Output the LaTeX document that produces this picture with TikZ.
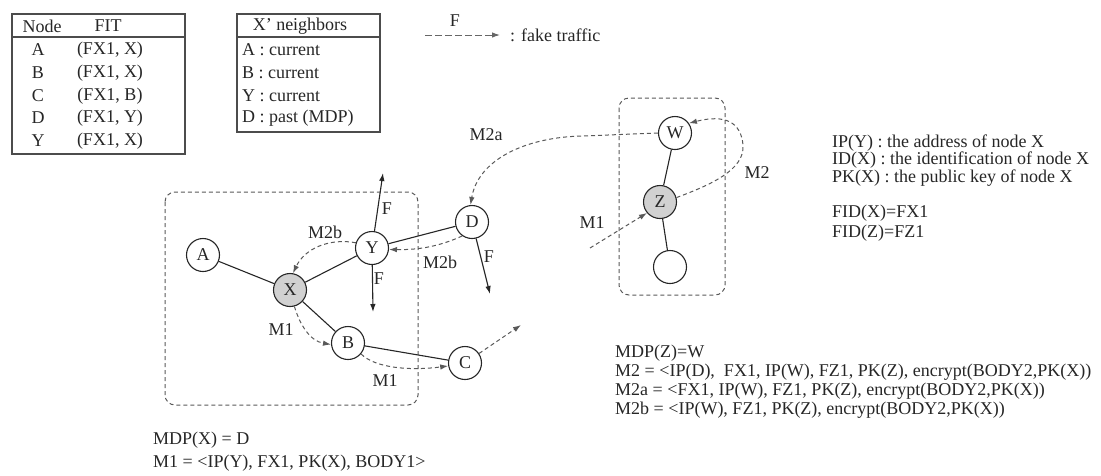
\documentclass[tikz,border=0pt]{standalone}
\usepackage{fontspec}
\setmainfont{Liberation Serif}
\usetikzlibrary{arrows.meta}
\begin{document}
\begin{tikzpicture}[x=1pt,y=-1pt,
  every node/.style={font=\fontsize{18}{20}\selectfont, inner sep=0pt, text=black!85},
  nd/.style={circle, draw=black!85, fill=white, line width=1.1pt, minimum size=33pt, inner sep=0pt},
  gnd/.style={nd, fill=black!18},
  edge/.style={draw=black!85, line width=1.1pt},
  tip/.style={-{Latex[length=8pt,width=5.5pt]}},
  msg/.style={draw=black!65, line width=1pt, dash pattern=on 4pt off 3pt, tip},
  ftraf/.style={draw=black!85, line width=1.1pt, tip},
  box/.style={draw=black!65, line width=1pt, dash pattern=on 4pt off 3pt, rounded corners=10pt},
  tbl/.style={draw=black!70, line width=1.3pt},
  txt/.style={anchor=west}
]
\useasboundingbox (0,0) rectangle (1101,475);

% tables
\draw[tbl] (12,14) rectangle (185,154);
\draw[tbl] (12,37) -- (185,37);
\node (t1h1) at (42,26) {Node};
\node (t1h2) at (108,26) {FIT};
\node (t1a) at (38,50) {A};   \node (t1af) at (110,50) {(FX1, X)};
\node (t1b) at (38,73) {B};   \node (t1bf) at (110,73) {(FX1, X)};
\node (t1c) at (38,96) {C};   \node (t1cf) at (110,96) {(FX1, B)};
\node (t1d) at (38,118) {D};  \node (t1df) at (110,118) {(FX1, Y)};
\node (t1y) at (38,141) {Y};  \node (t1yf) at (110,141) {(FX1, X)};

\draw[tbl] (237,14) rectangle (380,132);
\draw[tbl] (237,37) -- (380,37);
\node (t2h) at (300,26) {X' neighbors};
\node[txt] (t2a) at (242,50) {A : current};
\node[txt] (t2b) at (242,73) {B : current};
\node[txt] (t2y) at (242,96) {Y : current};
\node[txt] (t2d) at (242,118) {D : past (MDP)};

% legend
\coordinate (lg1) at (425,35);
\coordinate (lg2) at (500,35);
\draw[draw=black!60, line width=1pt, dash pattern=on 7pt off 3pt, tip] (lg1) -- (lg2);
\node (lgF) at (455,21) {F};
\node[txt] (lgt) at (510,35) {: fake traffic};

% dashed boxes
\draw[box] (165,192) rectangle (418,405);
\draw[box] (619,98) rectangle (725,295);

% nodes
\node[nd] (A) at (203,255) {A};
\node[gnd] (X) at (290,290) {X};
\node[nd] (Y) at (372,248) {Y};
\node[nd] (D) at (472,222) {D};
\node[nd] (B) at (348,343) {B};
\node[nd] (C) at (465,363) {C};
\node[nd] (W) at (675,133) {W};
\node[gnd] (Z) at (660,202) {Z};
\node[nd] (E) at (670,267) {};

\draw[edge] (A) -- (X);
\draw[edge] (X) -- (Y);
\draw[edge] (Y) -- (D);
\draw[edge] (X) -- (B);
\draw[edge] (B) -- (C);
\draw[edge] (W) -- (Z);
\draw[edge] (Z) -- (E);

% fake traffic
\coordinate (f1) at (383,173);
\coordinate (f2) at (373,312);
\coordinate (f3) at (490,294);
\coordinate (f4) at (521,325);
\draw[ftraf] (Y) -- (f1);
\draw[ftraf] (Y) -- (f2);
\draw[ftraf] (D) -- (f3);
\draw[msg] (C) -- (f4);
\node (lf1) at (387,209) {F};
\node (lf2) at (379,279) {F};
\node (lf3) at (489,257) {F};

% messages
\draw[msg] (Y.162) .. controls (330,238) and (305,248) .. (X.80);
\node (lm2b1) at (325,232) {M2b};
\draw[msg] (D.235) .. controls (440,246) and (420,250) .. (Y.-5);
\node (lm2b2) at (440,262) {M2b};
\draw[msg] (X.-75) .. controls (300,325) and (310,341) .. (B.185);
\node (lm11) at (281,330) {M1};
\draw[msg] (B.-40) .. controls (375,368) and (410,371) .. (C.190);
\node (lm12) at (385,381) {M1};

\coordinate (m2a) at (583,136);
\draw[msg] (W.west) -- (m2a) .. controls (525,137) and (478,160) .. (D.95);
\node (lm2a) at (486,135) {M2a};

\coordinate (m1z) at (590,248);
\draw[msg] (m1z) -- (Z.220);
\node (lm1z) at (592,223) {M1};

\coordinate (m2t) at (743,145);
\draw[msg] (Z.15) .. controls (710,185) and (745,170) .. (m2t) .. controls (741,122) and (725,114) .. (W.35);
\node (lm2) at (757,173) {M2};

% definitions
\node[txt] (d1) at (832,143) {IP(Y) : the address of node X};
\node[txt] (d2) at (832,160) {ID(X) : the identification of node X};
\node[txt] (d3) at (832,178) {PK(X) : the public key of node X};
\node[txt] (d4) at (832,213) {FID(X)=FX1};
\node[txt] (d5) at (832,233) {FID(Z)=FZ1};

\node[txt] (b1) at (615,353) {MDP(Z)=W};
\node[txt] (b2) at (615,372) {M2 = <IP(D),\ \ FX1, IP(W), FZ1, PK(Z), encrypt(BODY2,PK(X))};
\node[txt] (b3) at (615,391) {M2a = <FX1, IP(W), FZ1, PK(Z), encrypt(BODY2,PK(X))};
\node[txt] (b4) at (615,410) {M2b = <IP(W), FZ1, PK(Z), encrypt(BODY2,PK(X))};

\node[txt] (l1) at (153,440) {MDP(X) = D};
\node[txt] (l2) at (153,463) {M1 = <IP(Y), FX1, PK(X), BODY1>};
\end{tikzpicture}
\end{document}
